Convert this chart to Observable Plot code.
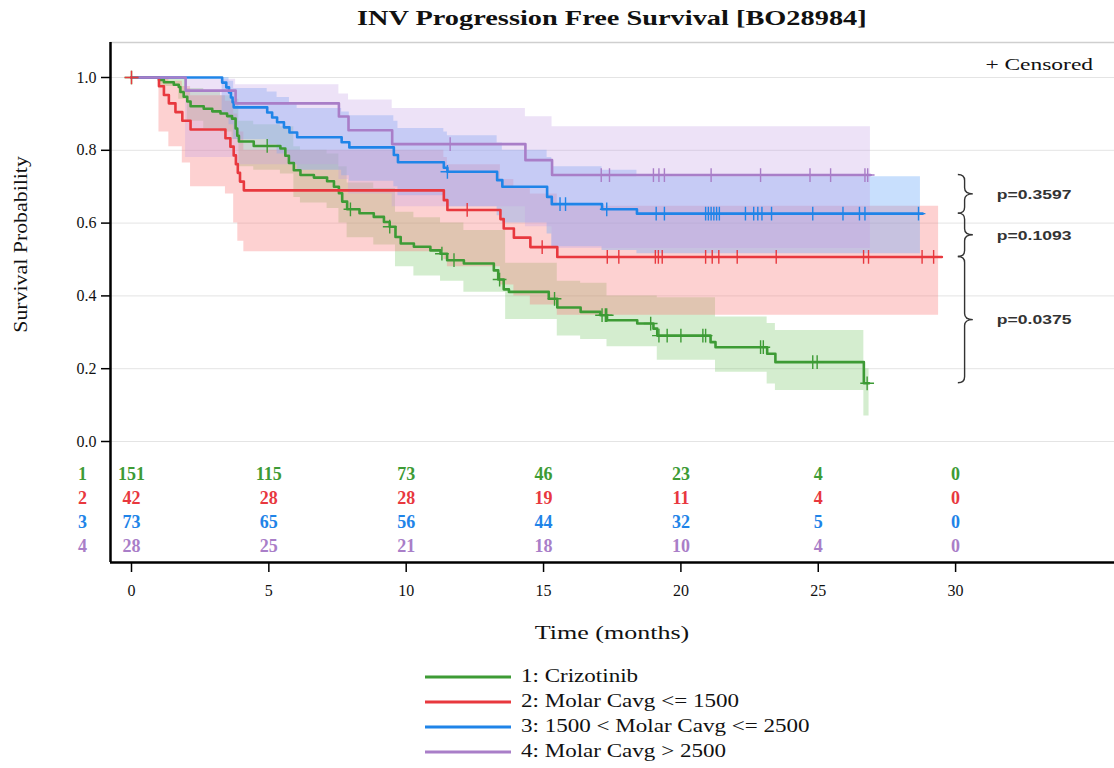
<!DOCTYPE html>
<html><head><meta charset="utf-8">
<script src="https://cdn.jsdelivr.net/npm/d3@7"></script>
<script src="https://cdn.jsdelivr.net/npm/@observablehq/plot@0.6"></script>
<style>
body{margin:0;background:#fff;font-family:"Liberation Serif","Times New Roman",serif;}
#title{height:36px;width:1004px;margin-left:110px;text-align:center;line-height:36px;color:#111;}
#title span{display:inline-block;font-weight:bold;font-size:21px;transform:scaleX(1.35);transform-origin:center;}
#chart{height:625px}
#legend{margin-left:425px;padding-top:3px;}
.row{height:25px;display:flex;align-items:center;font-size:18px;color:#111;}
.row svg{margin-right:10px}
.row span{display:inline-block;transform:scaleX(1.28);transform-origin:left center;white-space:pre;}
</style></head><body>
<div id="title"><span>INV Progression Free Survival [BO28984]</span></div>
<div id="chart"></div>
<div id="legend"></div>
<script>
// ---------- data ----------
const groupLabels = ["1: Crizotinib", "2: Molar Cavg <= 1500", "3: 1500 < Molar Cavg <= 2500", "4: Molar Cavg > 2500"];
const groupIds = ["1", "2", "3", "4"];
const groupColors = ["#3d9b35", "#e8383e", "#1f84e8", "#a97ec8"];
const bandColors = ["rgba(120,200,105,0.32)", "rgba(250,120,120,0.34)", "rgba(110,170,250,0.38)", "rgba(195,160,230,0.30)"];

// Group 1: Crizotinib
const g1Time = [0, 1.0, 1.18, 1.54, 1.72, 1.78, 1.9, 2.03, 2.15, 2.63, 2.94, 3.24, 3.48, 3.66, 3.79, 3.85, 3.91, 4.45, 5.42, 5.6, 5.73, 5.91, 6.15, 6.64, 7.12, 7.37, 7.55, 7.67, 7.85, 8.3, 8.82, 9.19, 9.4, 9.61, 9.8, 10.28, 10.88, 11.25, 11.49, 12.1, 13.19, 13.35, 13.55, 13.74, 15.19, 15.5, 16.35, 17.07, 17.31, 18.41, 19.0, 19.14, 21.08, 21.26, 23.14, 23.44, 26.66];
const g1Surv = [1, 0.993, 0.987, 0.98, 0.974, 0.96, 0.947, 0.934, 0.921, 0.914, 0.907, 0.901, 0.894, 0.887, 0.86, 0.84, 0.824, 0.812, 0.805, 0.785, 0.765, 0.745, 0.732, 0.725, 0.715, 0.70, 0.682, 0.659, 0.638, 0.627, 0.617, 0.603, 0.59, 0.562, 0.544, 0.535, 0.525, 0.516, 0.498, 0.489, 0.47, 0.445, 0.418, 0.411, 0.392, 0.368, 0.356, 0.347, 0.333, 0.324, 0.31, 0.291, 0.273, 0.259, 0.241, 0.218, 0.16];
const g1End = 26.85;
const g1BandTime = [0, 1.0, 1.72, 2.03, 2.63, 3.24, 3.66, 3.91, 4.45, 5.42, 5.91, 6.15, 7.12, 7.55, 7.85, 8.82, 9.61, 10.28, 11.25, 12.1, 13.62, 15.5, 16.35, 17.31, 19.14, 21.26, 23.14, 23.44, 26.66, 26.85];
const g1Lo = [1, 0.975, 0.94, 0.88, 0.86, 0.85, 0.83, 0.755, 0.745, 0.735, 0.67, 0.655, 0.64, 0.60, 0.56, 0.54, 0.48, 0.455, 0.44, 0.41, 0.335, 0.29, 0.28, 0.26, 0.223, 0.19, 0.158, 0.14, 0.07, 0.07];
const g1Hi = [1, 1, 0.995, 0.97, 0.96, 0.95, 0.94, 0.88, 0.87, 0.865, 0.81, 0.80, 0.79, 0.755, 0.71, 0.695, 0.63, 0.615, 0.60, 0.58, 0.49, 0.44, 0.435, 0.40, 0.395, 0.342, 0.324, 0.305, 0.20, 0.20];
const g1Cens = [0, 4.94, 7.97, 9.4, 11.3, 11.74, 13.4, 15.4, 17.13, 17.25, 17.3, 18.9, 19.2, 19.5, 20.0, 20.8, 20.9, 22.9, 23.0, 24.8, 24.96, 26.78];

// Group 2: Molar Cavg <= 1500
const g2Time = [0, 1.0, 1.18, 1.36, 1.6, 1.85, 2.15, 3.42, 3.6, 3.72, 3.8, 3.87, 3.95, 4.09, 11.37, 11.5, 13.43, 13.55, 13.92, 14.52, 15.5];
const g2Surv = [1, 0.976, 0.952, 0.929, 0.905, 0.881, 0.857, 0.833, 0.81, 0.786, 0.762, 0.738, 0.714, 0.69, 0.663, 0.636, 0.611, 0.585, 0.56, 0.534, 0.507];
const g2End = 29.5;
const g2BandTime = [0, 1.0, 1.36, 1.85, 2.15, 3.42, 3.72, 3.87, 4.09, 11.37, 11.5, 13.43, 13.92, 14.52, 15.5, 29.38];
const g2Lo = [1, 0.85, 0.81, 0.765, 0.70, 0.68, 0.60, 0.55, 0.521, 0.50, 0.48, 0.43, 0.40, 0.375, 0.347, 0.347];
const g2Hi = [1, 1, 0.99, 0.975, 0.95, 0.935, 0.90, 0.85, 0.80, 0.78, 0.76, 0.72, 0.70, 0.68, 0.646, 0.646];
const g2Cens = [0, 12.22, 14.95, 17.32, 17.74, 19.07, 19.18, 19.32, 20.9, 21.14, 21.38, 22.05, 23.47, 26.65, 26.83, 28.78, 29.2];

// Group 3: 1500 < Molar Cavg <= 2500
const g3Time = [0, 3.3, 3.45, 3.55, 3.62, 3.68, 3.72, 4.94, 5.12, 5.3, 5.55, 5.75, 6.03, 7.65, 7.93, 9.55, 9.7, 11.37, 11.5, 13.31, 13.5, 15.13, 15.3, 17.13, 18.4];
const g3Surv = [1, 0.986, 0.973, 0.959, 0.945, 0.932, 0.918, 0.904, 0.89, 0.877, 0.863, 0.849, 0.836, 0.822, 0.808, 0.787, 0.767, 0.752, 0.741, 0.718, 0.70, 0.672, 0.652, 0.638, 0.626];
const g3End = 28.8;
const g3BandTime = [0, 3.3, 3.55, 3.72, 4.94, 5.3, 5.75, 6.03, 7.65, 7.93, 9.55, 9.7, 11.37, 11.5, 13.31, 13.5, 15.13, 15.3, 17.13, 18.4, 28.72];
const g3Lo = [1, 0.90, 0.87, 0.83, 0.815, 0.79, 0.76, 0.745, 0.73, 0.715, 0.70, 0.675, 0.66, 0.645, 0.62, 0.60, 0.57, 0.535, 0.525, 0.516, 0.516];
const g3Hi = [1, 1, 0.99, 0.97, 0.96, 0.945, 0.925, 0.915, 0.905, 0.895, 0.88, 0.86, 0.85, 0.84, 0.82, 0.80, 0.78, 0.755, 0.745, 0.727, 0.727];
const g3Cens = [11.5, 15.6, 15.8, 17.3, 19.1, 19.4, 20.9, 21.0, 21.1, 21.2, 21.3, 21.4, 22.35, 22.65, 22.8, 22.95, 23.3, 24.8, 25.9, 26.5, 26.7, 28.65];

// Group 4: Molar Cavg > 2500
const g4Time = [0, 1.97, 3.79, 7.55, 7.9, 9.49, 14.34, 15.31];
const g4Surv = [1, 0.964, 0.929, 0.893, 0.855, 0.817, 0.773, 0.732];
const g4End = 26.9;
const g4BandTime = [0, 1.97, 3.79, 7.55, 7.9, 9.49, 14.34, 15.31, 26.9];
const g4Lo = [1, 0.78, 0.76, 0.72, 0.68, 0.645, 0.59, 0.53, 0.53];
const g4Hi = [1, 0.995, 0.98, 0.955, 0.938, 0.915, 0.892, 0.865, 0.86];
const g4Cens = [11.6, 17.1, 17.4, 19.0, 19.2, 19.4, 21.1, 22.9, 24.7, 25.45, 26.7, 26.8];

// Numbers at risk
const riskTimes = [0, 5, 10, 15, 20, 25, 30];
const risk1 = [151, 115, 73, 46, 23, 4, 0];
const risk2 = [42, 28, 28, 19, 11, 4, 0];
const risk3 = [73, 65, 56, 44, 32, 5, 0];
const risk4 = [28, 25, 21, 18, 10, 4, 0];

const pValues = ["p=0.3597", "p=0.1093", "p=0.0375"];
const xTicks = [0, 5, 10, 15, 20, 25, 30];
const yTicks = [0, 0.2, 0.4, 0.6, 0.8, 1.0];

// ---------- build ----------
const series = [
  {time: g1Time, surv: g1Surv, end: g1End, bandTime: g1BandTime, lo: g1Lo, hi: g1Hi, cens: g1Cens},
  {time: g2Time, surv: g2Surv, end: g2End, bandTime: g2BandTime, lo: g2Lo, hi: g2Hi, cens: g2Cens},
  {time: g3Time, surv: g3Surv, end: g3End, bandTime: g3BandTime, lo: g3Lo, hi: g3Hi, cens: g3Cens},
  {time: g4Time, surv: g4Surv, end: g4End, bandTime: g4BandTime, lo: g4Lo, hi: g4Hi, cens: g4Cens}
];
const risks = [risk1, risk2, risk3, risk4];

function survAt(s, t) { let v = 1; for (let i = 0; i < s.time.length; i++) if (s.time[i] <= t) v = s.surv[i]; return v; }
const lineRows = series.map(s => { const r = s.time.map((t, i) => ({t, s: s.surv[i]})); r.push({t: s.end, s: s.surv[s.surv.length - 1]}); return r; });
const bandRows = series.map(s => s.bandTime.map((t, i) => ({t, lo: s.lo[i], hi: s.hi[i]})));
const censRows = series.map(s => s.cens.map(t => ({t, s: survAt(s, t)})));

// layout
const W = 1114, H = 625, mL = 110, mR = 0, mT = 6, mB = 99;
const pxPerMonth = 27.47, x0px = 131;
const xMin = -(x0px - mL) / pxPerMonth, xMax = (W - x0px) / pxPerMonth;
const pxPerUnit = 364, y0px = 441 - 36;
const yMax = (y0px - mT) / pxPerUnit, yMin = -((H - mB) - y0px) / pxPerUnit;
function riskRowY(k) { return -0.0907 - 0.0659 * k; }
const fmtY = d3.format(".1f");

const marks = [
  Plot.gridY(yTicks, {stroke: "#e4e4e4", strokeOpacity: 1}),
  Plot.ruleY([yMax], {stroke: "#cfcfcf", strokeWidth: 1.5})
];
bandRows.forEach((rows, k) => marks.push(Plot.areaY(rows, {x: "t", y1: "lo", y2: "hi", curve: "step-after", fill: bandColors[k]})));
lineRows.forEach((rows, k) => marks.push(Plot.line(rows, {x: "t", y: "s", curve: "step-after", stroke: groupColors[k], strokeWidth: 2.6})));
censRows.forEach((rows, k) => marks.push(Plot.dot(rows, {x: "t", y: "s", symbol: "plus", r: 4.5, stroke: groupColors[k], strokeWidth: 1.4})));
risks.forEach((vals, k) => {
  marks.push(Plot.text(vals, {x: (d, i) => riskTimes[i], y: () => riskRowY(k), text: d => String(d), fill: groupColors[k], fontSize: 18, fontWeight: "bold", fontFamily: "Liberation Serif"}));
  marks.push(Plot.text([groupIds[k]], {frameAnchor: "left", dx: -28, y: () => riskRowY(k), text: d => d, fill: groupColors[k], fontSize: 18, fontWeight: "bold", fontFamily: "Liberation Serif", textAnchor: "middle"}));
});
marks.push(
  Plot.ruleX([xMin], {stroke: "#000", strokeWidth: 2.5}),
  Plot.ruleY([yMin], {stroke: "#000", strokeWidth: 2.5}),
  Plot.axisY({ticks: yTicks, tickFormat: () => "", tickSize: 9, label: null, stroke: "#000", strokeWidth: 1.5}),
  Plot.axisX({ticks: xTicks, tickFormat: () => "", tickSize: 10, label: null, stroke: "#000", strokeWidth: 1.5}),
  // tick labels
  Plot.text(yTicks, {y: d => d, frameAnchor: "left", dx: -14, text: d => fmtY(d), textAnchor: "end", lineAnchor: "middle", fontSize: 16, fontFamily: "Liberation Serif", fill: "#111"}),
  Plot.text(xTicks, {x: d => d, frameAnchor: "bottom", dy: 28, text: d => String(d), lineAnchor: "middle", fontSize: 16, fontFamily: "Liberation Serif", fill: "#111"})
);

const plot = Plot.plot({
  width: W, height: H,
  marginLeft: mL, marginRight: mR, marginTop: mT, marginBottom: mB,
  style: {fontFamily: "Liberation Serif", color: "#111", background: "#fff"},
  x: {domain: [xMin, xMax]},
  y: {domain: [yMin, yMax]},
  marks
});
document.getElementById("chart").appendChild(plot);

const sx = plot.scale("x"), sy = plot.scale("y");
const svg = d3.select(plot);

// stretched text helper (reference glyphs are horizontally wide)
function wideText(x, y, str, opts) {
  const g = svg.append("g").attr("transform", `translate(${x},${y})${opts.rotate ? ` rotate(${opts.rotate})` : ""} scale(${opts.sx || 1},1)`);
  g.append("text").attr("text-anchor", opts.anchor || "middle").attr("dy", "0.35em")
    .attr("font-family", opts.family || "Liberation Serif").attr("font-size", opts.size)
    .attr("font-weight", opts.weight || "normal").attr("fill", opts.fill || "#111").text(str);
}
const frameBottom = H - mB, frameRight = W - mR;
wideText((mL + frameRight) / 2, frameBottom + 70, "Time (months)", {size: 19, sx: 1.37});
wideText(20, sy.apply(0.54), "Survival Probability", {size: 19, rotate: -90, sx: 1.15});
wideText(frameRight - 21, mT + 22, "+ Censored", {size: 17, sx: 1.38, anchor: "end"});

// p-value braces between consecutive curve end values
const endVals = [series[3], series[2], series[1], series[0]].map(s => s.surv[s.surv.length - 1]);
const braceT = 30.1, w = 15;
for (let i = 0; i < 3; i++) {
  const y1 = sy.apply(endVals[i]), y2 = sy.apply(endVals[i + 1]);
  const xb = sx.apply(braceT), xm = xb + w * 0.45, xt = xb + w, ym = (y1 + y2) / 2, r = Math.min(6, (y2 - y1) / 4);
  svg.append("path")
    .attr("d", `M${xb},${y1} Q${xm},${y1} ${xm},${y1 + r} L${xm},${ym - r} Q${xm},${ym} ${xt},${ym} Q${xm},${ym} ${xm},${ym + r} L${xm},${y2 - r} Q${xm},${y2} ${xb},${y2}`)
    .attr("fill", "none").attr("stroke", "#333").attr("stroke-width", 1.4);
  wideText(xt + 24, ym, pValues[i], {size: 13.5, sx: 1.3, anchor: "start", family: "Liberation Sans, Arial, sans-serif", weight: "bold", fill: "#333"});
}

// legend
const legend = d3.select("#legend");
groupLabels.forEach((lab, k) => {
  const row = legend.append("div").attr("class", "row");
  const s = row.append("svg").attr("width", 86).attr("height", 6);
  s.append("line").attr("x1", 0).attr("x2", 86).attr("y1", 3).attr("y2", 3).attr("stroke", groupColors[k]).attr("stroke-width", 3);
  row.append("span").text(lab);
});
</script></body></html>
